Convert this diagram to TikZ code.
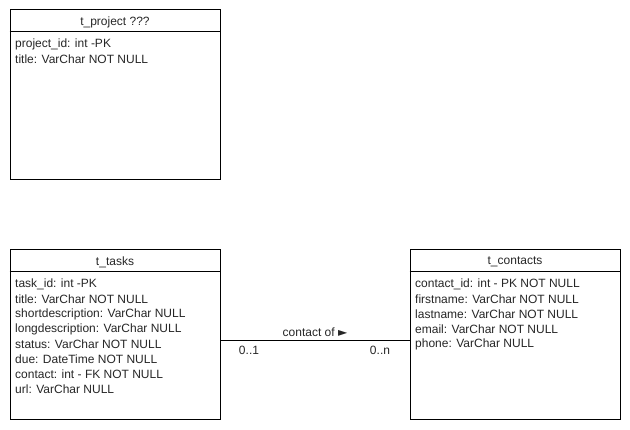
\documentclass[tikz,border=0pt]{standalone}
\usepackage{fontspec}
\setmainfont{Liberation Sans}
\usetikzlibrary{positioning}

\tikzset{
    table/.style={draw, line width=1pt, minimum width=210pt, minimum height=170pt, inner sep=0pt},
    field/.style={anchor=west, inner sep=0pt, font=\fontsize{12}{15}\selectfont, text=black!85},
    title/.style={inner sep=0pt, font=\fontsize{12}{15}\selectfont, text=black!85},
    mult/.style={inner sep=0pt, font=\fontsize{12}{15}\selectfont, text=black!85}
}

\begin{document}
\begin{tikzpicture}[x=1pt, y=-1pt]
    % Canvas of the same size as the reference
    \useasboundingbox (0, 0) rectangle (630, 430);

    % Height of the header of a table
    \def\head{22}

    % The three tables
    \node[table] (project) at (115, 95) {};
    \node[table] (tasks) at (115, 335) {};
    \node[table] (contacts) at (515, 335) {};

    % Header lines
    \draw[line width=1pt] ([yshift=-\head pt]project.north west) -- ([yshift=-\head pt]project.north east);
    \draw[line width=1pt] ([yshift=-\head pt]tasks.north west) -- ([yshift=-\head pt]tasks.north east);
    \draw[line width=1pt] ([yshift=-\head pt]contacts.north west) -- ([yshift=-\head pt]contacts.north east);

    % Table names
    \node[title] (projecttitle) at (115, 22) {t\_project ???};
    \node[title] (taskstitle) at (115, 262) {t\_tasks};
    \node[title] (contactstitle) at (515, 262) {t\_contacts};

    % Fields of t_project
    \node[field] (pid) at (15, 44) {project\_id: int -PK};
    \node[field] (ptitle) at (15, 59) {title: VarChar NOT NULL};

    % Fields of t_tasks
    \node[field] (tid) at (15, 284) {task\_id: int -PK};
    \node[field] (ttitle) at (15, 299) {title: VarChar NOT NULL};
    \node[field] (tshort) at (15, 314) {shortdescription: VarChar NULL};
    \node[field] (tlong) at (15, 329) {longdescription: VarChar NULL};
    \node[field] (tstatus) at (15, 344) {status: VarChar NOT NULL};
    \node[field] (tdue) at (15, 359) {due: DateTime NOT NULL};
    \node[field] (tcontact) at (15, 374) {contact: int - FK NOT NULL};
    \node[field] (turl) at (15, 389) {url: VarChar NULL};

    % Fields of t_contacts
    \node[field] (cid) at (415, 284) {contact\_id: int - PK NOT NULL};
    \node[field] (cfirst) at (415, 299) {firstname: VarChar NOT NULL};
    \node[field] (clast) at (415, 314) {lastname: VarChar NOT NULL};
    \node[field] (cemail) at (415, 329) {email: VarChar NOT NULL};
    \node[field] (cphone) at (415, 344) {phone: VarChar NULL};

    % Relation between tasks and contacts
    \draw[line width=1pt] ([yshift=-5.5pt]tasks.east) -- ([yshift=-5.5pt]contacts.west);
    \node[mult] (relname) at (315, 332) {contact of {\fontspec{DejaVu Sans}\fontsize{12}{15}\selectfont ►}};
    \node[mult] (multtasks) at (249, 350) {0..1};
    \node[mult] (multcontacts) at (380, 350) {0..n};
\end{tikzpicture}
\end{document}
